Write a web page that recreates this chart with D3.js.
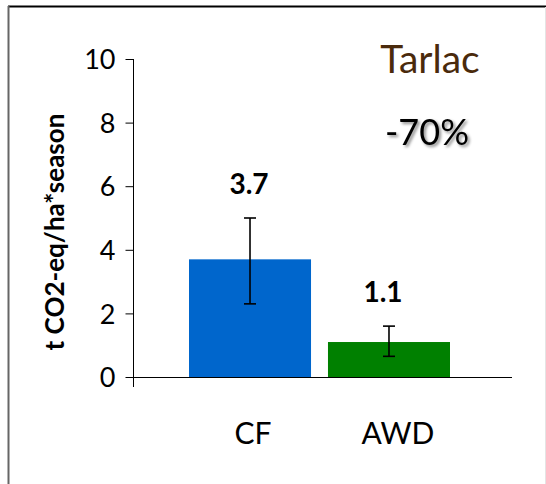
<!DOCTYPE html>
<html>
<head>
<meta charset="utf-8">
<script src="https://cdn.jsdelivr.net/npm/d3@7"></script>
<style>
  body { margin: 0; background: #fff; }
  text { font-family: Lato, "Open Sans", sans-serif; }
</style>
</head>
<body>
<div id="chart"></div>
<script>
const categories = ["CF", "AWD"];
const values = [3.7, 1.1];
const errLow = [2.3, 0.65];
const errHigh = [5.0, 1.6];
const barColors = ["#0066cc", "#008000"];
const yTicks = [0, 2, 4, 6, 8, 10];

const W = 546, H = 484;

const svg = d3.select("#chart")
  .append("svg")
  .attr("width", W)
  .attr("height", H);

// slide frame
svg.append("line").attr("x1", 8).attr("x2", W).attr("y1", 6.5).attr("y2", 6.5)
  .attr("stroke", "#000").attr("stroke-width", 2);
svg.append("line").attr("x1", 8.5).attr("x2", 8.5).attr("y1", 6).attr("y2", H)
  .attr("stroke", "#666").attr("stroke-width", 2);
svg.append("line").attr("x1", 545.5).attr("x2", 545.5).attr("y1", 7).attr("y2", H)
  .attr("stroke", "#e4e4e4").attr("stroke-width", 1);

const y = d3.scaleLinear().domain([0, 10]).range([377, 59]);

const x = d3.scaleBand()
  .domain(categories)
  .range([189, 450])
  .paddingInner(0.122)
  .paddingOuter(0);

const axisLeft = 133, axisRight = 512;

// bars
svg.selectAll(".bar")
  .data(values)
  .join("rect")
  .attr("class", "bar")
  .attr("x", (d, i) => x(categories[i]))
  .attr("width", x.bandwidth())
  .attr("y", d => y(d))
  .attr("height", d => y(0) - y(d))
  .attr("fill", (d, i) => barColors[i]);

// x baseline
svg.append("line")
  .attr("x1", axisLeft).attr("x2", axisRight)
  .attr("y1", y(0) + 0.5).attr("y2", y(0) + 0.5)
  .attr("stroke", "#000").attr("stroke-width", 1.2);

// y axis
const yAxis = svg.append("g")
  .attr("transform", `translate(${axisLeft + 0.5},0)`)
  .call(d3.axisLeft(y).tickValues(yTicks).tickSize(8).tickPadding(10).tickFormat(d3.format("d")));
yAxis.select(".domain").remove();
yAxis.selectAll(".tick line").attr("stroke", "#000");
yAxis.selectAll(".tick text")
  .attr("fill", "#000")
  .style("font-size", "27px")
  .attr("dy", "0.36em");
svg.append("line")
  .attr("x1", axisLeft + 0.5).attr("x2", axisLeft + 0.5)
  .attr("y1", y(10)).attr("y2", y(0) + 10)
  .attr("stroke", "#000").attr("stroke-width", 1);

// error bars
const cx = i => x(categories[i]) + x.bandwidth() / 2;
const eb = svg.selectAll(".err")
  .data(values)
  .join("g")
  .attr("class", "err")
  .attr("stroke", "#000")
  .attr("stroke-width", 1.6);
eb.append("line")
  .attr("x1", (d, i) => cx(i)).attr("x2", (d, i) => cx(i))
  .attr("y1", (d, i) => y(errHigh[i])).attr("y2", (d, i) => y(errLow[i]));
eb.append("line")
  .attr("x1", (d, i) => cx(i) - 6).attr("x2", (d, i) => cx(i) + 6)
  .attr("y1", (d, i) => y(errHigh[i])).attr("y2", (d, i) => y(errHigh[i]));
eb.append("line")
  .attr("x1", (d, i) => cx(i) - 6).attr("x2", (d, i) => cx(i) + 6)
  .attr("y1", (d, i) => y(errLow[i])).attr("y2", (d, i) => y(errLow[i]));

// value labels above error bars
svg.selectAll(".vlab")
  .data(values)
  .join("text")
  .attr("class", "vlab")
  .attr("x", (d, i) => cx(i) - (i === 0 ? 1 : 6))
  .attr("y", (d, i) => y(errHigh[i]) - 24)
  .attr("text-anchor", "middle")
  .style("font-size", "28px")
  .style("font-weight", "bold")
  .attr("fill", "#000")
  .text(d => d3.format(".1f")(d));

// category labels
svg.selectAll(".clab")
  .data(categories)
  .join("text")
  .attr("class", "clab")
  .attr("x", (d, i) => cx(i) + (i === 0 ? 3 : 9))
  .attr("y", 444)
  .attr("text-anchor", "middle")
  .style("font-size", "30px")
  .attr("fill", "#000")
  .text(d => d);

// y axis title
svg.append("text")
  .attr("transform", "translate(64,232) rotate(-90)")
  .attr("text-anchor", "middle")
  .style("font-size", "26px")
  .style("font-weight", "bold")
  .attr("fill", "#000")
  .text("t CO2-eq/ha*season");

// site name and reduction
svg.append("text")
  .attr("x", 430).attr("y", 73)
  .attr("text-anchor", "middle")
  .style("font-size", "39px")
  .attr("fill", "#4a2a0c")
  .text("Tarlac");

const defs = svg.append("defs");
const f = defs.append("filter").attr("id", "shadow").attr("x", "-20%").attr("y", "-20%").attr("width", "140%").attr("height", "140%");
f.append("feDropShadow").attr("dx", 2).attr("dy", 2).attr("stdDeviation", 1.5)
  .attr("flood-color", "#000").attr("flood-opacity", 0.45);

svg.append("text")
  .attr("x", 427).attr("y", 145)
  .attr("text-anchor", "middle")
  .style("font-size", "36px")
  .attr("fill", "#000")
  .attr("filter", "url(#shadow)")
  .text("-70%");
</script>
</body>
</html>
